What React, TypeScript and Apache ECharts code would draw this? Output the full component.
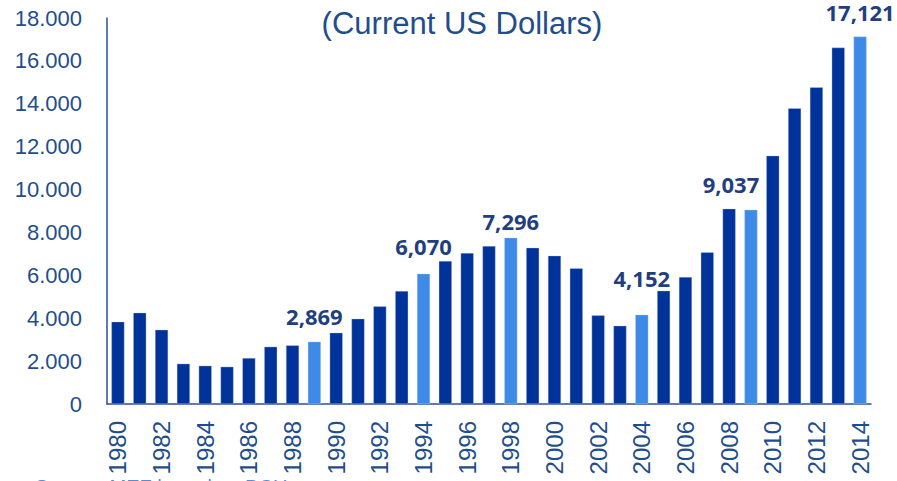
import React, { useEffect, useRef } from "react";
import * as echarts from "echarts";

const years = [
  "1980","1981","1982","1983","1984","1985","1986","1987","1988","1989",
  "1990","1991","1992","1993","1994","1995","1996","1997","1998","1999",
  "2000","2001","2002","2003","2004","2005","2006","2007","2008","2009",
  "2010","2011","2012","2013","2014",
];
const values = [
  3840, 4260, 3465, 1880, 1786, 1740, 2145, 2673, 2737, 2906,
  3326, 3980, 4555, 5270, 6078, 6670, 7043, 7370, 7757, 7290,
  6918, 6328, 4136, 3653, 4166, 5286, 5923, 7074, 9110, 9063,
  11582, 13792, 14770, 16620, 17134,
];
const highlightYears = ["1989", "1994", "1998", "2004", "2009", "2014"];
const highlightLabels = ["2,869", "6,070", "7,296", "4,152", "9,037", "17,121"];
const labelDistance = [15, 17, 6, 26, 15, 14];
const labelShiftX = [0, 0, 0, 0, -20, 0];
const yTicks = { min: 0, max: 18000, interval: 2000 };
const titleText = "(Current US Dollars)";
const sourceText = "Source: MEF based on BCU";

const DARK = "#003399";
const LIGHT = "#3d8be6";
const TEXT = "#1f4e8c";

export default function App() {
  const ref = useRef<HTMLDivElement>(null);
  useEffect(() => {
    if (!ref.current) return;
    const chart = echarts.init(ref.current, undefined, { renderer: "svg" });
    const data = values.map((v, i) => {
      const h = highlightYears.indexOf(years[i]);
      if (h < 0) return { value: v, itemStyle: { color: DARK } };
      return {
        value: v,
        itemStyle: { color: LIGHT },
        label: {
          show: true,
          position: "top",
          distance: labelDistance[h],
          offset: [labelShiftX[h], 0],
          formatter: highlightLabels[h],
          fontFamily: "Noto Sans",
          fontWeight: "bold",
          fontSize: 22,
          lineHeight: 22,
          color: "#1f3f80",
        },
      };
    });
    chart.setOption({
      animation: false,
      title: {
        text: titleText,
        left: 457,
        textAlign: "center",
        top: 3,
        textStyle: {
          fontFamily: "Liberation Sans, Arial",
          fontWeight: "normal",
          fontSize: 31,
          color: TEXT,
        },
      },
      graphic: [
        {
          type: "text",
          left: 35,
          top: 477,
          style: {
            text: sourceText,
            fontFamily: "Liberation Sans, Arial",
            fontSize: 20,
            fill: "#5a8ad6",
          },
        },
      ],
      grid: { left: 107, right: 26, top: 18, bottom: 77, containLabel: false },
      xAxis: {
        type: "category",
        data: years,
        axisLine: { lineStyle: { color: "#2a4f9a", width: 1.5 } },
        axisTick: { show: false },
        axisLabel: {
          interval: 1,
          rotate: 90,
          margin: 17,
          fontFamily: "Liberation Sans, Arial",
          fontSize: 24,
          color: TEXT,
        },
      },
      yAxis: {
        type: "value",
        min: yTicks.min,
        max: yTicks.max,
        interval: yTicks.interval,
        axisLine: { show: true, lineStyle: { color: "#2a4f9a", width: 1.5 } },
        axisTick: { show: false },
        splitLine: { show: false },
        axisLabel: {
          margin: 25,
          fontFamily: "Liberation Sans, Arial",
          fontSize: 22,
          color: TEXT,
          formatter: (v: number) => {
            if (v === 0) return "0";
            const s = String(v);
            return s.slice(0, s.length - 3) + "." + s.slice(s.length - 3);
          },
        },
      },
      series: [
        {
          type: "bar",
          data,
          barCategoryGap: "40%",
          itemStyle: { borderColor: "rgba(200,212,238,0.7)", borderWidth: 0.5 },
        },
      ],
    });
    return () => chart.dispose();
  }, []);
  return <div ref={ref} style={{ width: 897, height: 481, position: "absolute", left: 0, top: 0 }} />;
}
